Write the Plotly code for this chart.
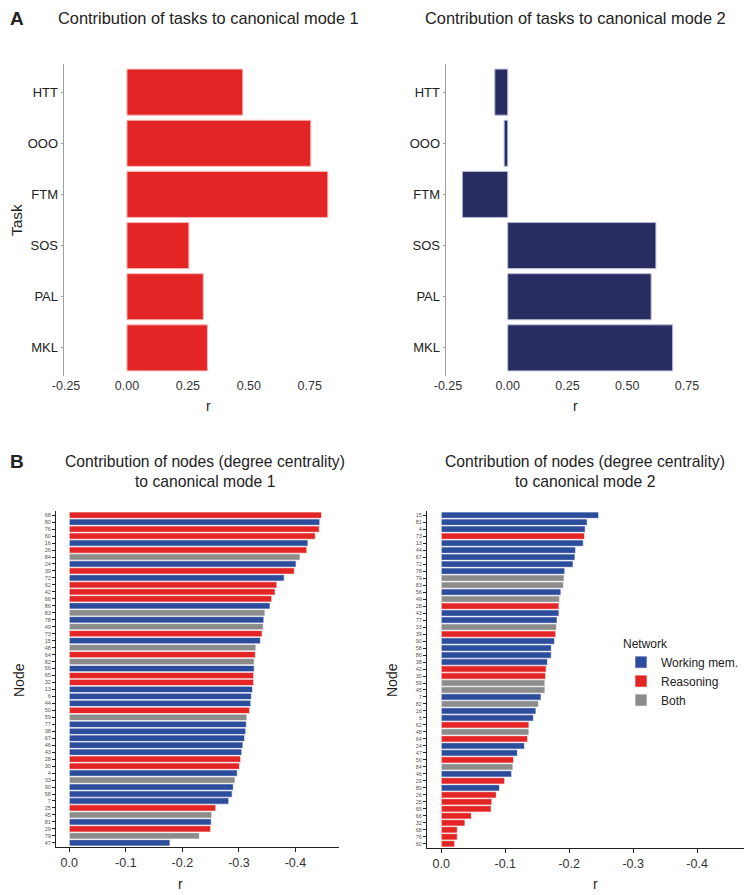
import plotly.graph_objects as go

# the page body keeps its default 8px margin, so the figure is drawn 8px in
OFF = 8
W, H = 752 - OFF, 895 - OFF
FONT = "Liberation Sans, Arial, sans-serif"

RED = "#E32526"
BLUE = "#2C4C9C"
GREY = "#8C8C8C"
NAVY = "#282C60"

# Panel A: task loadings
tasks = ["HTT", "OOO", "FTM", "SOS", "PAL", "MKL"]
task_r_mode1 = [0.475, 0.754, 0.824, 0.254, 0.313, 0.330]
task_r_mode2 = [-0.054, -0.015, -0.190, 0.620, 0.600, 0.690]

# Panel B: node loadings (degree centrality), W = working mem., R = reasoning, B = both
nodes_mode1 = ["68", "80", "76", "60", "16", "26", "84", "24", "39", "72",
               "62", "42", "66", "86", "83", "78", "49", "73", "15", "48",
               "64", "82", "56", "65", "32", "13", "6", "44", "50", "59",
               "77", "38", "67", "46", "43", "28", "30", "4", "33", "90",
               "58", "7", "25", "45", "81", "29", "79", "47"]
r_mode1 = [-0.446, -0.443, -0.442, -0.435, -0.422, -0.420, -0.408, -0.401, -0.398, -0.380,
           -0.367, -0.364, -0.358, -0.355, -0.346, -0.344, -0.343, -0.341, -0.338, -0.330,
           -0.329, -0.327, -0.327, -0.326, -0.326, -0.324, -0.322, -0.321, -0.319, -0.314,
           -0.313, -0.312, -0.310, -0.307, -0.305, -0.303, -0.301, -0.297, -0.293, -0.290,
           -0.288, -0.282, -0.259, -0.252, -0.251, -0.250, -0.230, -0.178]
net_mode1 = ["R", "W", "R", "R", "W", "R", "B", "W", "R", "W",
             "R", "R", "R", "W", "B", "W", "B", "R", "W", "B",
             "R", "B", "W", "R", "R", "W", "W", "W", "R", "B",
             "W", "W", "W", "W", "W", "R", "R", "W", "B", "W",
             "W", "W", "R", "B", "W", "R", "B", "W"]

nodes_mode2 = ["15", "81", "4", "73", "13", "44", "67", "72", "78", "79",
               "83", "56", "49", "28", "43", "77", "33", "39", "90", "58",
               "86", "38", "42", "30", "59", "45", "7", "82", "16", "6",
               "62", "48", "64", "24", "47", "50", "84", "46", "29", "80",
               "26", "25", "65", "66", "32", "68", "76", "60"]
r_mode2 = [-0.246, -0.228, -0.225, -0.224, -0.222, -0.210, -0.209, -0.206, -0.193, -0.192,
           -0.191, -0.187, -0.185, -0.184, -0.184, -0.181, -0.180, -0.179, -0.177, -0.172,
           -0.172, -0.166, -0.164, -0.163, -0.162, -0.162, -0.156, -0.152, -0.148, -0.144,
           -0.137, -0.137, -0.135, -0.130, -0.119, -0.113, -0.112, -0.110, -0.099, -0.091,
           -0.086, -0.079, -0.078, -0.047, -0.037, -0.025, -0.025, -0.021]
net_mode2 = ["W", "W", "W", "R", "W", "W", "W", "W", "W", "B",
             "B", "W", "B", "R", "W", "W", "B", "R", "W", "W",
             "W", "W", "R", "R", "B", "B", "W", "B", "W", "W",
             "R", "B", "R", "W", "W", "R", "B", "W", "R", "W",
             "R", "R", "R", "R", "R", "R", "R", "R"]

networks = [("W", "Working mem.", BLUE), ("R", "Reasoning", RED), ("B", "Both", GREY)]


# page pixel -> paper fraction
def fx(px):
    return (px - OFF) / W


def fy(py):
    return 1 - (py - OFF) / H


def px_x(a, b):
    return [fx(a), fx(b)]


def px_y(top, bottom):
    return [fy(bottom), fy(top)]


fig = go.Figure()

# --- panel A bars
fig.add_trace(go.Bar(x=task_r_mode1, y=tasks, orientation="h", width=0.9,
                     marker=dict(color=RED, line=dict(color="#F4B6B6", width=1)),
                     xaxis="x", yaxis="y", showlegend=False))
fig.add_trace(go.Bar(x=task_r_mode2, y=tasks, orientation="h", width=0.9,
                     marker=dict(color=NAVY, line=dict(color="#B8BAD6", width=1)),
                     xaxis="x2", yaxis="y2", showlegend=False))

# --- panel B bars, one trace per network so the legend is real
for code, label, col in networks:
    y1 = [n for n, k in zip(nodes_mode1, net_mode1) if k == code]
    x1 = [v for v, k in zip(r_mode1, net_mode1) if k == code]
    fig.add_trace(go.Bar(x=x1, y=y1, orientation="h", width=0.9, name=label,
                         marker=dict(color=col, line=dict(color="white", width=0.6)),
                         xaxis="x3", yaxis="y3", showlegend=False))
for code, label, col in networks:
    y2 = [n for n, k in zip(nodes_mode2, net_mode2) if k == code]
    x2 = [v for v, k in zip(r_mode2, net_mode2) if k == code]
    fig.add_trace(go.Bar(x=x2, y=y2, orientation="h", width=0.9, name=label,
                         marker=dict(color=col, line=dict(color="white", width=0.6)),
                         xaxis="x4", yaxis="y4", showlegend=True))

top_x = dict(range=[-0.26, 0.915], tickvals=[-0.25, 0, 0.25, 0.5, 0.75],
             ticktext=["-0.25", "0.00", "0.25", "0.50", "0.75"],
             showline=False, ticks="", showgrid=False, zeroline=False, automargin=False,
             tickfont=dict(size=12.5, color="#333333", family=FONT))
top_y = dict(type="category", categoryorder="array", categoryarray=tasks,
             tickvals=tasks, range=[5.55, -0.55], showline=True, linecolor="#A0A0A0",
             linewidth=1, ticks="outside", ticklen=2, tickcolor="#A0A0A0",
             showgrid=False, automargin=False,
             tickfont=dict(size=13, color="#222222", family=FONT))

bot_x = dict(tickvals=[0, -0.1, -0.2, -0.3, -0.4],
             ticktext=["0.0", "-0.1", "-0.2", "-0.3", "-0.4"],
             showline=True, linecolor="#222222", linewidth=1.2, ticks="outside",
             ticklen=4, tickcolor="#222222", showgrid=False, zeroline=False,
             automargin=False, tickfont=dict(size=12.5, color="#333333", family=FONT))
bot_y_common = dict(type="category", categoryorder="array", showline=True,
                    linecolor="#222222", linewidth=1.2, ticks="outside", ticklen=3,
                    tickcolor="#222222", showgrid=False, automargin=False,
                    tickfont=dict(size=5.5, color="#555555", family=FONT))

fig.update_layout(
    width=W, height=H,
    margin=dict(l=0, r=0, t=0, b=0),
    paper_bgcolor="white", plot_bgcolor="white",
    barmode="overlay",
    font=dict(family=FONT, color="#222222"),
    xaxis=dict(domain=px_x(63.6, 350), anchor="y", **top_x),
    yaxis=dict(domain=px_y(64, 376), anchor="x", **top_y),
    xaxis2=dict(domain=px_x(445.6, 726.4), anchor="y2", **top_x),
    yaxis2=dict(domain=px_y(64, 376), anchor="x2", **top_y),
    xaxis3=dict(domain=px_x(56, 339), anchor="y3", range=[0.0235, -0.477], **bot_x),
    yaxis3=dict(domain=px_y(511, 847), anchor="x3", categoryarray=nodes_mode1,
                tickvals=nodes_mode1, range=[47.6, -0.6], **bot_y_common),
    xaxis4=dict(domain=px_x(427, 747), anchor="y4", range=[0.0223, -0.478], **bot_x),
    yaxis4=dict(domain=px_y(511, 848), anchor="x4", categoryarray=nodes_mode2,
                tickvals=nodes_mode2, range=[47.6, -0.6], **bot_y_common),
    legend=dict(x=fx(621), y=fy(632), xanchor="left", yanchor="top",
                title=dict(text="Network", font=dict(size=12, family=FONT)),
                font=dict(size=12, family=FONT, color="#222222"),
                tracegroupgap=0, itemwidth=30, bgcolor="rgba(0,0,0,0)"),
)


def text(x, y, s, size, bold=False, angle=0, xanchor="center"):
    if bold:
        s = "<b>" + s + "</b>"
    fig.add_annotation(x=fx(x), y=fy(y), xref="paper", yref="paper", text=s,
                       showarrow=False, textangle=angle, xanchor=xanchor, yanchor="middle",
                       font=dict(size=size, family=FONT, color="#222222"))


text(8, 18, "A", 19, bold=True, xanchor="left")
text(208, 18, "Contribution of tasks to canonical mode 1", 16.4)
text(575, 18, "Contribution of tasks to canonical mode 2", 16.4)
text(17, 220, "Task", 15.5, angle=-90)
text(208, 406, "r", 14)
text(575, 406, "r", 14)

text(8, 461, "B", 19, bold=True, xanchor="left")
text(205, 461, "Contribution of nodes (degree centrality)", 15.7)
text(205, 481, "to canonical mode 1", 15.7)
text(585, 461, "Contribution of nodes (degree centrality)", 15.7)
text(585, 481, "to canonical mode 2", 15.7)
text(19, 680, "Node", 14, angle=-90)
text(392, 680, "Node", 14, angle=-90)
text(180, 884, "r", 14)
text(595, 884, "r", 14)

fig.write_html("out.html")
